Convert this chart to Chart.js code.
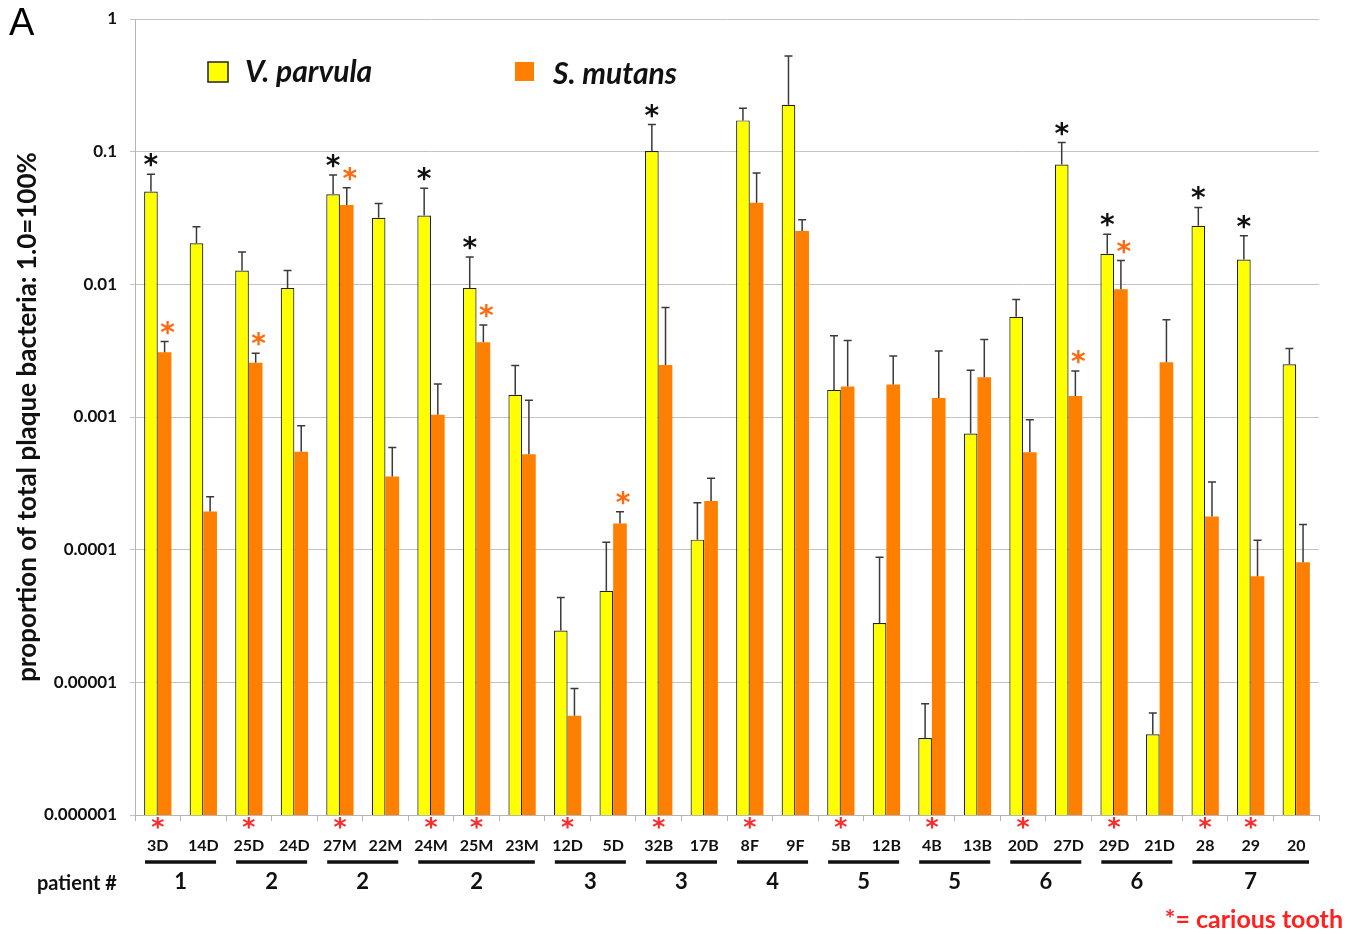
<!DOCTYPE html>
<html>
<head>
<meta charset="utf-8">
<script src="https://cdn.jsdelivr.net/npm/chart.js@4.4.0/dist/chart.umd.min.js"></script>
<style>
  body { margin: 0; background: #fff; }
  #wrap { position: relative; width: 1363px; height: 934px; }
</style>
</head>
<body>
<div id="wrap"><canvas id="plaqueChart"></canvas></div>
<script>
var teeth = ['3D', '14D', '25D', '24D', '27M', '22M', '24M', '25M', '23M', '12D', '5D', '32B', '17B',
             '8F', '9F', '5B', '12B', '4B', '13B', '20D', '27D', '29D', '21D', '28', '29', '20'];

// mean proportion and upper end of the error bar, per tooth
var parvula = [0.050, 0.0204, 0.0127, 0.0094, 0.0477, 0.0318, 0.033, 0.0094, 0.00147, 0.0000246, 0.000049, 0.101, 0.000119,
               0.172, 0.226, 0.0016, 0.000028, 0.0000038, 0.00075, 0.0057, 0.080, 0.017, 0.00000406, 0.0276, 0.0154, 0.0025];
var parvulaErr = [0.0676, 0.0272, 0.0175, 0.0127, 0.0667, 0.0406, 0.053, 0.0161, 0.00244, 0.0000436, 0.0001135, 0.160, 0.000226,
                  0.212, 0.526, 0.0041, 0.0000875, 0.0000069, 0.00225, 0.0077, 0.117, 0.0238, 0.00000587, 0.038, 0.0232, 0.00328];
var mutans = [0.00308, 0.000194, 0.00256, 0.000548, 0.0397, 0.000356, 0.00104, 0.00366, 0.000524, 0.0000056, 0.0001575, 0.00247, 0.000233,
              0.0412, 0.0252, 0.0017, 0.00176, 0.00139, 0.00199, 0.000542, 0.00144, 0.0092, 0.00259, 0.000178, 0.000063, 0.0000805];
var mutansErr = [0.0037, 0.000251, 0.00303, 0.00086, 0.0535, 0.000588, 0.00177, 0.00494, 0.00134, 0.00000897, 0.000193, 0.0067, 0.000346,
                 0.069, 0.0307, 0.00377, 0.00288, 0.00315, 0.00384, 0.000955, 0.00222, 0.0151, 0.0054, 0.000324, 0.000118, 0.000155];

var parvulaStars = ['3D', '27M', '24M', '25M', '32B', '27D', '29D', '28', '29'];
var mutansStars = ['3D', '25D', '27M', '25M', '5D', '27D', '29D'];
var cariousTeeth = ['3D', '25D', '27M', '24M', '25M', '12D', '32B', '8F', '5B', '4B', '20D', '29D', '28', '29'];

var patients = ['1', '2', '2', '2', '3', '3', '4', '5', '5', '6', '6', '7'];
var patientTeethCount = [2, 2, 2, 3, 2, 2, 2, 2, 2, 2, 2, 3];

var tickValues = [0.000001, 0.00001, 0.0001, 0.001, 0.01, 0.1, 1];
var tickLabels = ['0.000001', '0.00001', '0.0001', '0.001', '0.01', '0.1', '1'];

var FONT = 'Lato, "Open Sans", sans-serif';
var YELLOW = '#ffff00';
var ORANGE = '#ff8000';

function drawStar(ctx, x, cy, color, size) {
    ctx.save();
    ctx.font = 'bold ' + size + 'px "DejaVu Sans", sans-serif';
    ctx.fillStyle = color;
    ctx.textAlign = 'center';
    ctx.textBaseline = 'alphabetic';
    var m = ctx.measureText('*');
    var base = cy + (m.actualBoundingBoxAscent - m.actualBoundingBoxDescent) / 2;
    ctx.fillText('*', x, base);
    ctx.restore();
}

var errorBarsPlugin = {
    id: 'errorBars',
    afterDatasetsDraw: function (chart) {
        var ctx = chart.ctx;
        var yScale = chart.scales.y;
        var errs = [parvulaErr, mutansErr];
        var stars = [parvulaStars, mutansStars];
        var starColors = ['#111', '#ff6a10'];
        for (var d = 0; d < 2; d++) {
            var meta = chart.getDatasetMeta(d);
            meta.data.forEach(function (bar, i) {
                var yTop = yScale.getPixelForValue(errs[d][i]);
                ctx.save();
                ctx.strokeStyle = '#3a3a3a';
                ctx.lineWidth = 1.5;
                ctx.beginPath();
                ctx.moveTo(bar.x, bar.y);
                ctx.lineTo(bar.x, yTop);
                ctx.moveTo(bar.x - 4, yTop);
                ctx.lineTo(bar.x + 4, yTop);
                ctx.stroke();
                ctx.restore();
                if (stars[d].indexOf(teeth[i]) >= 0)
                    drawStar(ctx, bar.x + (d == 1 ? 3 : 0), yTop - 14, starColors[d], 28);
            });
        }
    },
    afterDraw: function (chart) {
        var ctx = chart.ctx;
        var xScale = chart.scales.x;
        var step = xScale.getPixelForValue(1) - xScale.getPixelForValue(0);

        // carious teeth marks under the axis
        teeth.forEach(function (t, i) {
            if (cariousTeeth.indexOf(t) >= 0)
                drawStar(ctx, xScale.getPixelForValue(i), 823, '#ff2a2a', 25);
        });

        // patient groups
        var start = 0;
        ctx.save();
        ctx.fillStyle = '#111';
        ctx.strokeStyle = '#111';
        ctx.lineWidth = 3.5;
        ctx.font = 'bold 22px ' + FONT;
        ctx.textAlign = 'center';
        ctx.textBaseline = 'middle';
        patients.forEach(function (p, g) {
            var first = xScale.getPixelForValue(start);
            var last = xScale.getPixelForValue(start + patientTeethCount[g] - 1);
            var mid = (first + last) / 2;
            var half = (last - first) / 2 + step * 0.28;
            ctx.beginPath();
            ctx.moveTo(mid - half, 862);
            ctx.lineTo(mid + half, 862);
            ctx.stroke();
            ctx.fillText(p, mid, 882);
            start += patientTeethCount[g];
        });
        ctx.font = 'bold 20px ' + FONT;
        ctx.textAlign = 'left';
        ctx.fillText('patient #', 37, 884);

        ctx.fillStyle = '#ff2020';
        ctx.font = 'bold 25px ' + FONT;
        ctx.textAlign = 'right';
        ctx.fillText('*= carious tooth', 1343, 920);

        // panel letter
        ctx.fillStyle = '#000';
        ctx.font = '38px "Liberation Sans", Arial, sans-serif';
        ctx.textAlign = 'left';
        ctx.textBaseline = 'alphabetic';
        ctx.fillText('A', 9, 35);

        // legend
        ctx.fillStyle = YELLOW;
        ctx.strokeStyle = '#222';
        ctx.lineWidth = 1.5;
        ctx.fillRect(208, 62, 20, 20);
        ctx.strokeRect(208, 62, 20, 20);
        ctx.fillStyle = ORANGE;
        ctx.fillRect(515, 62, 19, 19);
        ctx.fillStyle = '#111';
        ctx.font = 'italic bold 30px ' + FONT;
        ctx.textBaseline = 'middle';
        ctx.fillText('V. parvula', 245, 72);
        ctx.fillText('S. mutans', 553, 74);
        ctx.restore();
    }
};

var plaqueChart = new Chart(document.getElementById('plaqueChart'), {
    type: 'bar',
    data: {
        labels: teeth,
        datasets: [{
            label: 'V. parvula',
            data: parvula,
            backgroundColor: YELLOW,
            borderColor: '#222',
            borderWidth: 1.2,
            categoryPercentage: 0.6,
            barPercentage: 1.0
        }, {
            label: 'S. mutans',
            data: mutans,
            backgroundColor: ORANGE,
            borderWidth: 0,
            categoryPercentage: 0.6,
            barPercentage: 1.0
        }]
    },
    options: {
        responsive: true,
        maintainAspectRatio: false,
        animation: false,
        layout: { padding: { left: 0, top: 19, right: 44, bottom: 0 } },
        plugins: {
            legend: { display: false },
            tooltip: { enabled: false }
        },
        scales: {
            x: {
                afterFit: function (scale) { scale.height = 119; },
                grid: { offset: true, drawOnChartArea: false, drawTicks: true, tickLength: 6, color: '#b5b5b5' },
                border: { color: '#b5b5b5' },
                ticks: {
                    color: '#111',
                    padding: 15,
                    maxRotation: 0,
                    autoSkip: false,
                    font: { family: FONT, size: 16, weight: 'bold' }
                }
            },
            y: {
                type: 'logarithmic',
                min: 0.000001,
                max: 1,
                afterFit: function (scale) {
                    scale.width = 135;
                    scale.paddingTop = 0;
                    scale.paddingBottom = 0;
                },
                afterBuildTicks: function (scale) {
                    scale.ticks = tickValues.map(function (v) { return { value: v }; });
                },
                grid: { color: '#c4c4c4', tickLength: 5 },
                border: { color: '#b5b5b5' },
                ticks: {
                    color: '#111',
                    padding: 13,
                    font: { family: FONT, size: 17, weight: 'bold' },
                    callback: function (value) {
                        var i = tickValues.indexOf(value);
                        return i >= 0 ? tickLabels[i] : '';
                    }
                },
                title: {
                    display: true,
                    text: 'proportion of total plaque bacteria: 1.0=100%',
                    color: '#111',
                    padding: { top: 12, bottom: 0 },
                    font: { family: FONT, size: 26, weight: 'bold' }
                }
            }
        }
    },
    plugins: [errorBarsPlugin]
});
</script>
</body>
</html>
